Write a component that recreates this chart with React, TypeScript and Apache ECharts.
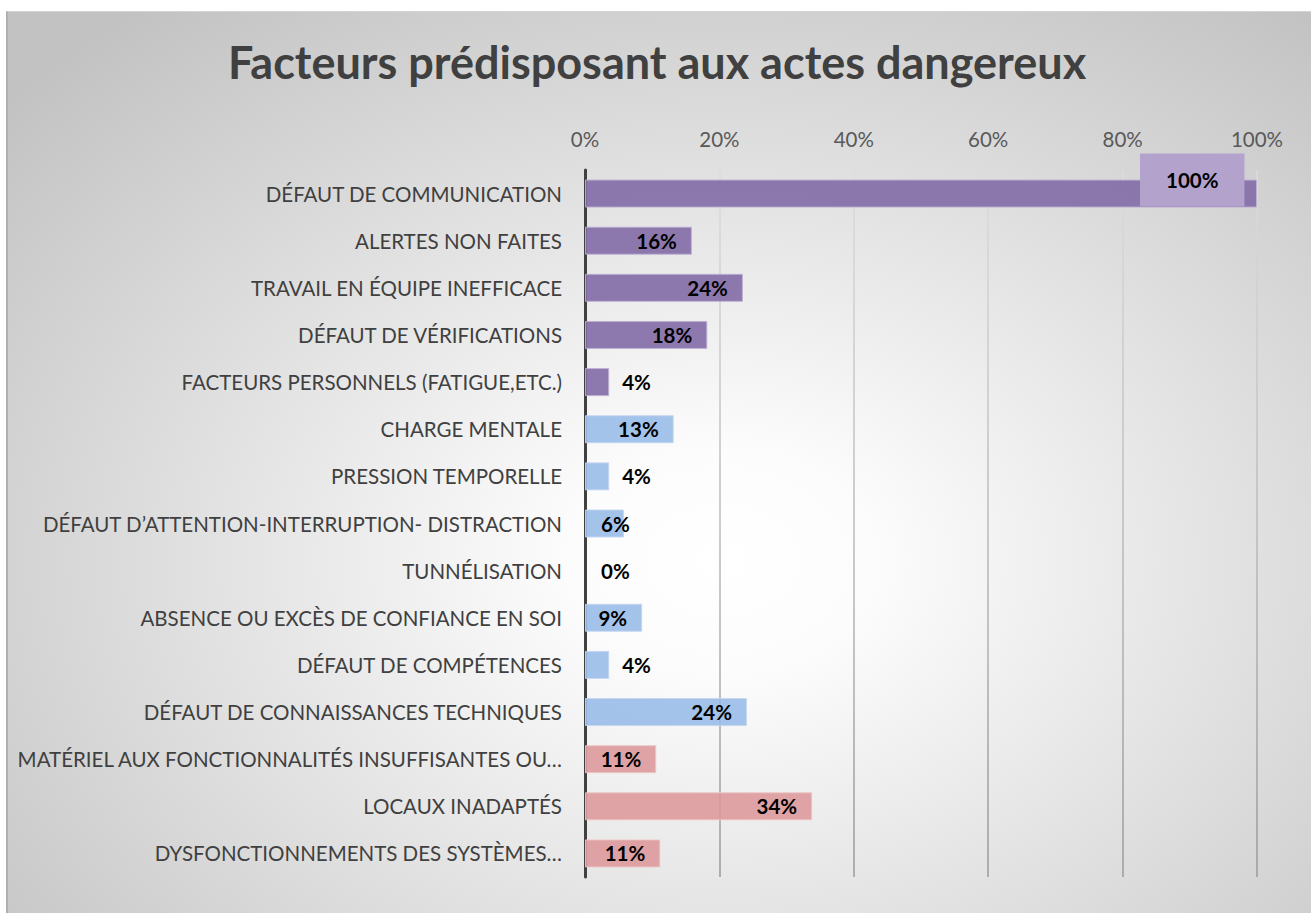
import React, { useEffect, useRef } from 'react';
import * as echarts from 'echarts';

const chartTitle = 'Facteurs prédisposant aux actes dangereux';

const categories = [
  'DÉFAUT DE COMMUNICATION',
  'ALERTES NON FAITES',
  'TRAVAIL EN ÉQUIPE INEFFICACE',
  'DÉFAUT DE VÉRIFICATIONS',
  'FACTEURS PERSONNELS (FATIGUE,ETC.)',
  'CHARGE MENTALE',
  'PRESSION TEMPORELLE',
  'DÉFAUT D’ATTENTION-INTERRUPTION- DISTRACTION',
  'TUNNÉLISATION',
  'ABSENCE OU EXCÈS DE CONFIANCE EN SOI',
  'DÉFAUT DE COMPÉTENCES',
  'DÉFAUT DE CONNAISSANCES TECHNIQUES',
  'MATÉRIEL AUX FONCTIONNALITÉS INSUFFISANTES OU…',
  'LOCAUX INADAPTÉS',
  'DYSFONCTIONNEMENTS DES SYSTÈMES…',
];

// percentages
const values = [100, 15.9, 23.5, 18.2, 3.6, 13.2, 3.6, 5.8, 0, 8.5, 3.6, 24.1, 10.6, 33.8, 11.2];

// colour group of each category
const groups = ['p', 'p', 'p', 'p', 'p', 'b', 'b', 'b', 'b', 'b', 'b', 'b', 'r', 'r', 'r'];

// label placement of each data label
const labelPlacement = ['box', 'in', 'in', 'in', 'out', 'in', 'out', 'base', 'base', 'in', 'out', 'in', 'in', 'in', 'in'];

const xTicks = { min: 0, max: 100, interval: 20 };

const groupStyle: Record<string, { color: string; borderColor: string }> = {
  p: { color: 'rgba(131,107,167,0.9)', borderColor: 'rgba(190,176,212,0.9)' },
  b: { color: 'rgba(154,188,232,0.9)', borderColor: 'rgba(196,214,240,0.9)' },
  r: { color: 'rgba(221,154,156,0.9)', borderColor: 'rgba(238,196,197,0.9)' },
};

const FONT = 'Lato, "Open Sans", sans-serif';

function labelFor(kind: string) {
  const base = {
    show: true,
    color: '#000',
    fontFamily: FONT,
    fontWeight: 'bold' as const,
    fontSize: 20.5,
    formatter: (p: any) => `${Math.round(p.value)}%`,
  };
  if (kind === 'box') {
    return {
      ...base,
      position: [555, -26],
      align: 'left',
      verticalAlign: 'top',
      backgroundColor: '#b3a2cb',
      padding: [16, 26],
      lineHeight: 21,
    };
  }
  if (kind === 'out') return { ...base, position: 'right', distance: 13 };
  if (kind === 'base') return { ...base, position: 'insideLeft', distance: 16 };
  return { ...base, position: 'insideRight', distance: 15 };
}

export default function App() {
  const ref = useRef<HTMLDivElement>(null);

  useEffect(() => {
    if (!ref.current) return;
    const chart = echarts.init(ref.current, null, { renderer: 'svg' });
    chart.setOption({
      animation: false,
      backgroundColor: 'transparent',
      title: {
        text: chartTitle,
        left: 'center',
        top: 34,
        textStyle: {
          fontFamily: FONT,
          fontWeight: 'bold',
          fontSize: 45,
          color: '#404040',
        },
      },
      grid: { left: 585, right: 57, top: 170, bottom: 38, containLabel: false },
      xAxis: {
        type: 'value',
        position: 'top',
        min: xTicks.min,
        max: xTicks.max,
        interval: xTicks.interval,
        axisLine: { show: false },
        axisTick: { show: false },
        axisLabel: {
          formatter: '{value}%',
          color: '#595959',
          fontFamily: FONT,
          fontSize: 20.5,
          margin: 21,
        },
        splitLine: {
          show: true,
          lineStyle: {
            width: 1.5,
            color: {
              type: 'linear',
              x: 0, y: 170, x2: 0, y2: 877,
              global: true,
              colorStops: [
                { offset: 0, color: '#dcdcdc' },
                { offset: 1, color: '#9a9a9a' },
              ],
            },
          },
        },
      },
      yAxis: {
        type: 'category',
        inverse: true,
        data: categories,
        axisLine: { show: true, lineStyle: { color: '#404040', width: 3 } },
        axisTick: { show: false },
        axisLabel: {
          color: '#404040',
          fontFamily: FONT,
          fontSize: 20.5,
          margin: 23,
        },
        splitLine: { show: false },
      },
      series: [
        {
          type: 'bar',
          barWidth: 28,
          z: 3,
          data: values.map((v, i) => ({
            value: v,
            itemStyle: { ...groupStyle[groups[i]], borderWidth: v > 0 ? 1 : 0 },
            label: labelFor(labelPlacement[i]),
          })),
        },
      ],
    });
    return () => chart.dispose();
  }, []);

  return (
    <div style={{ position: 'absolute', left: 0, top: 0, width: 1314, height: 915, background: '#ffffff' }}>
      <div
        style={{
          position: 'absolute',
          left: 6,
          top: 11,
          width: 1305,
          height: 902,
          boxSizing: 'border-box',
          borderLeft: '2px solid #b0b0b0',
          borderTop: '1px solid #d4d4d4',
          background: 'radial-gradient(950px 700px at 714px 549px, #ffffff 0%, #fcfcfc 16%, #c2c2c2 100%)',
        }}
      />
      <div ref={ref} style={{ position: 'absolute', left: 0, top: 0, width: 1314, height: 915 }} />
    </div>
  );
}
